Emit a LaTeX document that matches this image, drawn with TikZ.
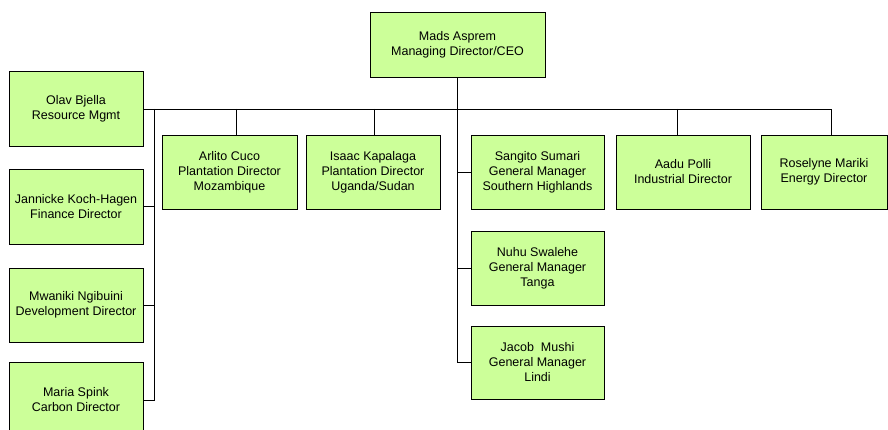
\documentclass[tikz,border=0pt]{standalone}
\usepackage{fontspec}
\setmainfont{Liberation Sans}
\definecolor{boxgreen}{RGB}{204,255,153}
\begin{document}
\begin{tikzpicture}[x=1pt,y=-1pt,
  box/.style={draw=black,line width=0.8pt,fill=boxgreen,inner sep=0pt,align=center,
    font=\fontsize{12.5}{15}\selectfont},
  link/.style={draw=black,line width=0.8pt}]
\useasboundingbox (0,0) rectangle (888,430);
\clip (0,0) rectangle (888,430);
% nodes
\node[box,minimum width=175pt,minimum height=65pt] (ceo) at (457.5,44.5) {Mads Asprem\\Managing Director/CEO};
\node[box,minimum width=134pt,minimum height=75pt] (olav) at (76,109) {Olav Bjella\\Resource Mgmt};
\node[box,minimum width=134pt,minimum height=75pt] (jann) at (76,206.5) {Jannicke Koch-Hagen\\Finance Director};
\node[box,minimum width=134pt,minimum height=74pt] (mwan) at (76,305) {Mwaniki Ngibuini\\Development Director};
\node[box,minimum width=134pt,minimum height=76pt] (maria) at (76,400) {Maria Spink\\Carbon Director};
\node[box,minimum width=135pt,minimum height=74pt] (arlito) at (229.5,172) {Arlito Cuco\\Plantation Director\\Mozambique};
\node[box,minimum width=134pt,minimum height=74pt] (isaac) at (373,172) {Isaac Kapalaga\\Plantation Director\\Uganda/Sudan};
\node[box,minimum width=133pt,minimum height=74pt] (sangito) at (537.5,172) {Sangito Sumari\\General Manager\\Southern Highlands};
\node[box,minimum width=133pt,minimum height=74pt] (nuhu) at (537.5,268) {Nuhu Swalehe\\General Manager\\Tanga};
\node[box,minimum width=133pt,minimum height=73pt] (jacob) at (537.5,362.5) {Jacob\ \ Mushi\\General Manager\\Lindi};
\node[box,minimum width=134pt,minimum height=74pt] (aadu) at (683,172) {Aadu Polli\\Industrial Director};
\node[box,minimum width=126pt,minimum height=74pt] (rose) at (824,172) {Roselyne Mariki\\Energy Director};
% coordinates on the bar
\coordinate (bend) at (831,109);
\coordinate (b1) at (236,109);
\coordinate (b2) at (374,109);
\coordinate (b3) at (677,109);
\coordinate (ls) at (154,109);
% main bar
\draw[link] (olav.east) -- (bend) -- (bend |- rose.north);
\draw[link] (b1) -- (b1 |- arlito.north);
\draw[link] (b2) -- (b2 |- isaac.north);
\draw[link] (b3) -- (b3 |- aadu.north);
% centre spine
\draw[link] (ceo.south) -- (ceo.south |- jacob.west) -- (jacob.west);
\draw[link] (ceo.south |- sangito.west) -- (sangito.west);
\draw[link] (ceo.south |- nuhu.west) -- (nuhu.west);
% left spine
\draw[link] (ls) -- (ls |- maria.east) -- (maria.east);
\draw[link] (jann.east) -- (jann.east -| ls);
\draw[link] (mwan.east) -- (mwan.east -| ls);
\end{tikzpicture}
\end{document}
